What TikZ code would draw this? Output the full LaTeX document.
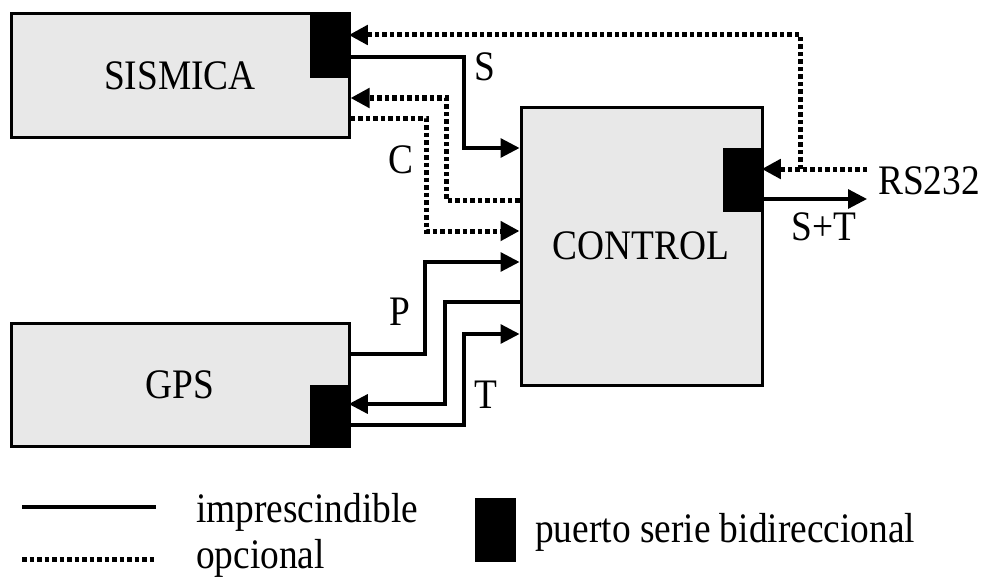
\documentclass[tikz,border=0pt]{standalone}
\usepackage{fontspec}
\setmainfont{Liberation Serif}[FakeStretch=0.89]
\usetikzlibrary{arrows.meta}
\definecolor{boxgray}{RGB}{232,232,232}
\begin{document}
\begin{tikzpicture}[x=1pt,y=-1pt,
  every node/.style={font=\fontsize{42}{46}\selectfont, inner sep=0pt},
  block/.style={draw, line width=3pt, fill=boxgray, minimum width=#1},
  port/.style={fill=black, draw=black, line width=0.5pt},
  req/.style={line width=3.2pt},
  opt/.style={line width=5pt, dash pattern=on 4.5pt off 3pt},
  tip/.style={-{Triangle[length=19pt,width=19pt]}},
  lbl/.style={anchor=center}]
\useasboundingbox (0,0) rectangle (983,578);
% blocks
\node[block=338pt, minimum height=123pt] (sis) at (180,75.5) {SISMICA};
\node[block=338pt, minimum height=123pt] (gps) at (180,384.5) {GPS};
\node[block=241pt, minimum height=278pt] (ctl) at (641.5,246) {};
\node at (641,246) (ctltxt) {CONTROL};
% ports
\node[port, minimum width=38pt, minimum height=63pt] (sisport) at (329.5,46) {};
\node[port, minimum width=38pt, minimum height=61pt] (gpsport) at (329.5,415.5) {};
\node[port, minimum width=38pt, minimum height=63pt] (ctlport) at (742.5,179.5) {};
% free ends
\coordinate (rsin) at (867,169);
\coordinate (stout) at (867,199);
\coordinate (rsbr) at (800,169);
% connectors
\draw[opt, tip] (rsin) -- (ctlport.east |- rsin);
\draw[opt, tip] (rsbr) |- (sisport.east |- 0,35);
\draw[req, tip] (sisport.east |- 0,57) -| (464,148) -- (ctl.west |- 0,148);
\draw[opt, tip] (ctl.west |- 0,200) -| (446,98) -- (sis.east |- 0,98);
\draw[opt, tip] (sis.east |- 0,118) -| (426,231) -- (ctl.west |- 0,231);
\draw[req, tip] (gps.east |- 0,354) -| (425,262) -- (ctl.west |- 0,262);
\draw[req, tip] (ctl.west |- 0,302) -| (445,404) -- (gpsport.east |- 0,404);
\draw[req, tip] (gpsport.east |- 0,425) -| (464,334) -- (ctl.west |- 0,334);
\draw[req, tip] (ctlport.east |- stout) -- (stout);
% labels
\node (ls) at (485,67) {S};
\node (lc) at (401,160) {C};
\node (lp) at (400,312) {P};
\node (lt) at (486,395) {T};
\node (lst) at (824,227) {S+T};
\node (lrs) at (929,181) {RS232};
% legend
\coordinate (l1a) at (22,507); \coordinate (l1b) at (156,507);
\coordinate (l2a) at (22,559); \coordinate (l2b) at (156,559);
\draw[req] (l1a) -- (l1b);
\draw[opt] (l2a) -- (l2b);
\node[anchor=base west] (li) at (196,522) {imprescindible};
\node[anchor=base west] (lo) at (196,568) {opcional};
\node[port, minimum width=40pt, minimum height=63pt] (lport) at (495.5,529.5) {};
\node[anchor=base west] (lpu) at (535,542) {puerto serie bidireccional};
\end{tikzpicture}
\end{document}
